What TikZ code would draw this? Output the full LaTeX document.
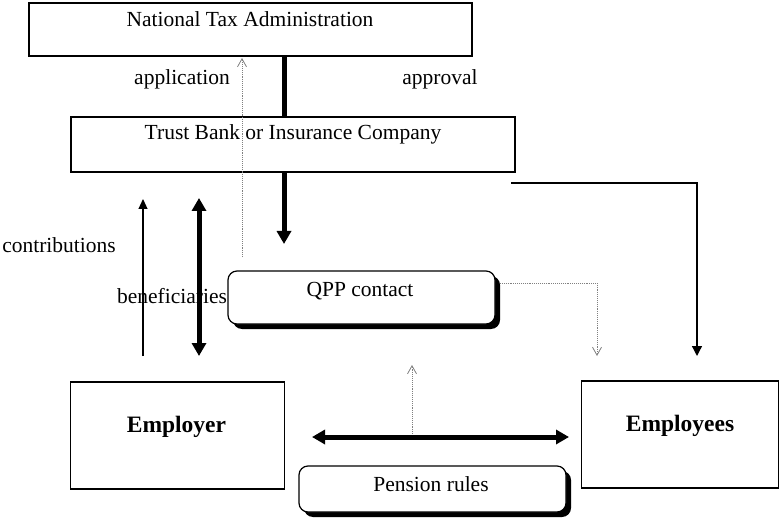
\documentclass[tikz,border=0pt]{standalone}
\usepackage{fontspec}
\setmainfont{Liberation Serif}
\usetikzlibrary{arrows.meta,shadows}
\begin{document}
\begin{tikzpicture}[x=1pt,y=-1pt,
  box/.style={draw, line width=1.2pt, inner sep=0pt},
  rbox/.style={draw, line width=1.2pt, inner sep=0pt, fill=white, rounded corners=9pt,
    drop shadow={shadow xshift=5pt, shadow yshift=-5pt, opacity=1, fill=black}},
  txt/.style={anchor=base, inner sep=0pt, font=\fontsize{21.5}{24}\selectfont},
  btxt/.style={anchor=base, inner sep=0pt, font=\fontsize{23.5}{26}\selectfont\bfseries},
  dotline/.style={gray, line width=0.9pt, densely dotted},
  openhead/.style={-{Straight Barb[length=8pt,width=9pt,line width=0.8pt]}},
  thick4/.style={line width=5pt},
  headend/.style={-{Triangle[length=13pt,width=14pt]}},
  headboth/.style={{Triangle[length=13pt,width=14pt]}-{Triangle[length=13pt,width=14pt]}},
]
\useasboundingbox (0,0) rectangle (779,521);

% boxes
\node[box, minimum width=443pt, minimum height=53pt] (nta) at (250.5,29.5) {};
\node[box, minimum width=444pt, minimum height=55pt] (trust) at (293,144.5) {};
\node[box, minimum width=214pt, minimum height=107pt] (employer) at (177.5,435.5) {};
\node[box, minimum width=197pt, minimum height=107pt] (employees) at (680,434.5) {};
\node[rbox, minimum width=267pt, minimum height=53pt] (qpp) at (361.5,297.5) {};
\node[rbox, minimum width=267pt, minimum height=46pt] (pension) at (432.5,489) {};

% texts
\node[txt] (ntat) at (250,27) {National Tax Administration};
\node[txt] (trustt) at (293,140) {Trust Bank or Insurance Company};
\node[txt] (appl) at (182,85) {application};
\node[txt] (appr) at (440,85) {approval};
\node[txt] (contr) at (59,253) {contributions};
\node[txt] (benef) at (172,304) {beneficiaries};
\node[txt] (qppt) at (360,297) {QPP contact};
\node[txt] (pent) at (431,491) {Pension rules};
\node[btxt] (empt) at (176.5,432) {Employer};
\node[btxt] (empst) at (680,431) {Employees};

% coordinates
\coordinate (aplS) at (242,257);
\coordinate (aplE) at (242,58);
\coordinate (apvS) at (284,56);
\coordinate (apvE) at (284,117);
\coordinate (downS) at (284,172);
\coordinate (downE) at (284,244);
\coordinate (trR) at (511,183);
\coordinate (trC) at (697,183);
\coordinate (trE) at (697,356);
\coordinate (qR) at (500,283);
\coordinate (qC) at (597,283);
\coordinate (qE) at (597,356);
\coordinate (coS) at (143,356);
\coordinate (coE) at (143,199);
\coordinate (beS) at (199,356);
\coordinate (beE) at (199,198);
\coordinate (hL) at (312,437);
\coordinate (hR) at (569,437);
\coordinate (upS) at (412,434);
\coordinate (upE) at (412,365);

% connectors
\draw[dotline, openhead] (aplS) -- (aplE);
\draw[thick4] (apvS) -- (apvE);
\draw[thick4, headend] (downS) -- (downE);
\draw[line width=1.3pt, -{Triangle[length=10pt,width=10pt]}] (trR) -- (trC) -- (trE);
\draw[dotline, openhead] (qR) -- (qC) -- (qE);
\draw[line width=1.1pt, -{Triangle[length=10pt,width=9pt]}] (coS) -- (coE);
\draw[thick4, headboth] (beS) -- (beE);
\draw[thick4, headboth] (hL) -- (hR);
\draw[dotline, openhead] (upS) -- (upE);
\end{tikzpicture}
\end{document}
